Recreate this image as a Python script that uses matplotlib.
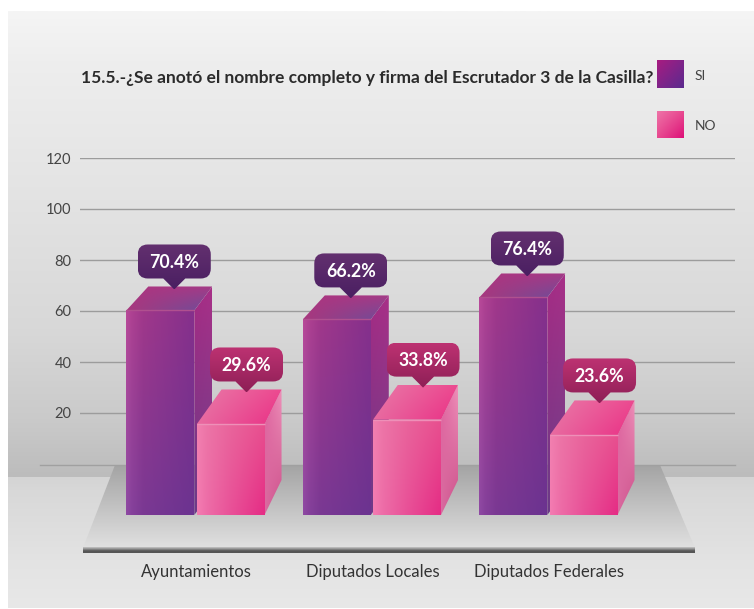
import numpy as np
import matplotlib
matplotlib.use("Agg")
import matplotlib.pyplot as plt
from matplotlib.colors import to_rgb
from matplotlib.patches import Polygon, PathPatch
from matplotlib.path import Path

# ---- data ----
title = "15.5.-¿Se anotó el nombre completo y firma del Escrutador 3 de la Casilla?"
categories = ["Ayuntamientos", "Diputados Locales", "Diputados Federales"]
series_names = ["SI", "NO"]
si_percent = [70.4, 66.2, 76.4]
no_percent = [29.6, 33.8, 23.6]
# height of each front face as it reads against the printed axis
si_axis_top = [60.2, 56.7, 65.3]
no_axis_top = [15.5, 17.4, 11.2]
bar_floor = -20
y_ticks = [20, 40, 60, 80, 100, 120]

W, H = 754, 609
plt.rcParams['font.family'] = ['Lato', 'DejaVu Sans']
fig = plt.figure(figsize=(W / 100, H / 100), dpi=100, facecolor='white')

def c(s):
    return np.array(to_rgb(s))

def grad(ax, x0, x1, y0, y1, tl, tr, bl, br, clip=None, z=1, n=80, stops=None):
    """Bilinear gradient; row 0 of the image (tl, tr) lies at y1."""
    u = np.linspace(0, 1, n)[None, :, None]
    v = np.linspace(0, 1, n)[:, None, None]
    img = (c(tl) * (1 - u) + c(tr) * u) * (1 - v) + (c(bl) * (1 - u) + c(br) * u) * v
    if stops is not None:
        img = np.clip(img + np.interp(u[0, :, 0], stops[0], stops[1])[None, :, None], 0, 1)
    xl, yl = ax.get_xlim(), ax.get_ylim()
    im = ax.imshow(img, extent=(x0, x1, y0, y1), origin='upper', aspect='auto',
                   interpolation='bilinear', zorder=z)
    if clip is not None:
        im.set_clip_path(clip)
    ax.set_xlim(xl)
    ax.set_ylim(yl)
    return im

def vgrad(ax, x0, x1, ys, cols, z=0):
    vals = np.linspace(ys[0], ys[-1], 300)
    arr = np.stack([np.interp(vals, ys, [c(k)[i] for k in cols]) for i in range(3)], axis=1)[:, None, :]
    ax.imshow(arr, extent=(x0, x1, ys[-1], ys[0]), origin='upper', aspect='auto',
              interpolation='bilinear', zorder=z)

# ---- backdrop in pixel coordinates ----
bg = fig.add_axes([0, 0, 1, 1], zorder=0)
bg.set_xlim(0, W)
bg.set_ylim(H, 0)
bg.axis('off')
vgrad(bg, 8, W, [11, 60, 200, 330, 420, 477],
      ['#f5f5f5', '#eeeeee', '#e3e3e3', '#d8d8d8', '#cacaca', '#bcbcbc'])
vgrad(bg, 8, W, [477, 490, 560, 608], ['#d4d4d4', '#d8d8d8', '#e3e3e3', '#e8e8e8'])
floor = Polygon([(115, 465), (660, 465), (695, 548), (83, 548)], closed=True, fc='none', ec='none')
bg.add_patch(floor)
grad(bg, 83, 695, 548, 465, '#a4a4a4', '#a4a4a4', '#e0e0e0', '#e0e0e0', clip=floor, z=1)
vgrad(bg, 83, 695, [548, 550, 551.5, 553.5], ['#c8c8c8', '#8a8a8a', '#555555', '#555555'], z=2)
bg.plot([40, 735], [465, 465], color='#a0a0a0', lw=1, zorder=1.5)
bg.set_xlim(0, W)
bg.set_ylim(H, 0)

# legend swatches and names
for name, ty, y0, y1, a, b, m in [
    (series_names[0], 76, 60, 88, '#a81c80', '#5a2a8e', '#80248a'),
    (series_names[1], 126, 111, 138, '#ee74a8', '#dd0f78', '#e84a90'),
]:
    grad(bg, 657, 684, y1, y0, a, m, m, b, z=3)
    bg.text(695, ty, name, fontsize=10, color='#444444', va='center', ha='left', zorder=4)
bg.set_xlim(0, W)
bg.set_ylim(H, 0)
bg.text(81, 78, title, fontsize=12.5, fontweight='bold', color='#2b2b2b', va='center', ha='left', zorder=4)

# ---- chart axes ----
PX_X = 176.5   # pixels per category step
PX_Y = 2.55    # pixels per axis unit
ax_l, ax_r, ax_t, ax_b = 80, 735, 158, 553
ax = fig.add_axes([ax_l / W, 1 - ax_b / H, (ax_r - ax_l) / W, (ax_b - ax_t) / H], zorder=1)
ax.patch.set_alpha(0)
ax.set_xlim(-(196 - ax_l) / PX_X, (ax_r - 196) / PX_X)
ax.set_ylim((464 - ax_b) / PX_Y, 120)
for s in ax.spines.values():
    s.set_visible(False)
ax.set_yticks(y_ticks)
ax.set_yticklabels([str(t) for t in y_ticks], fontsize=10.5, color='#444444')
ax.set_xticks(range(len(categories)))
ax.set_xticklabels(categories, fontsize=12, color='#333333')
ax.tick_params(axis='both', length=0)
ax.tick_params(axis='y', pad=6)
ax.tick_params(axis='x', pad=8)
ax.yaxis.grid(True, color='#9c9c9c', lw=1)
ax.set_axisbelow(True)

def px(d):
    return d / PX_X

def py(d):
    return d / PX_Y

def callout(cx, tip_y, label, top, bottom, z):
    w, h, r = px(73), py(34), 10
    rx, ry = px(r), py(r)
    x0, x1 = cx - w / 2, cx + w / 2
    y0 = tip_y + py(11)
    y1 = y0 + h
    tw = px(11)
    V = [(x0 + rx, y1), (x1 - rx, y1), (x1, y1), (x1, y1 - ry), (x1, y0 + ry), (x1, y0), (x1 - rx, y0),
         (cx + tw, y0), (cx, tip_y), (cx - tw, y0), (x0 + rx, y0), (x0, y0), (x0, y0 + ry),
         (x0, y1 - ry), (x0, y1), (x0 + rx, y1), (x0 + rx, y1)]
    C = [Path.MOVETO, Path.LINETO, Path.CURVE3, Path.CURVE3, Path.LINETO, Path.CURVE3, Path.CURVE3,
         Path.LINETO, Path.LINETO, Path.LINETO, Path.LINETO, Path.CURVE3, Path.CURVE3,
         Path.LINETO, Path.CURVE3, Path.CURVE3, Path.CLOSEPOLY]
    p = PathPatch(Path(V, C), fc='none', ec='none', zorder=z)
    ax.add_patch(p)
    grad(ax, x0, x1, tip_y, y1, top, top, bottom, bottom, clip=p, z=z)
    ax.text(cx, (y0 + y1) / 2 - py(1), label, color='white', fontsize=12.8, fontweight='bold',
            ha='center', va='center', zorder=z + 0.1)

styles = {
    'SI': dict(off=-0.395, dxl=22, dxr=18, dy=24,
               front=('#a93a8a', '#85308c', '#7f3a94', '#6b3390'),
               stops=([0, .08, .25, 1], [.06, .03, 0, 0]),
               top=('#ac3580', '#a63a86', '#a8387e', '#6d4d9a'),
               side=('#a62c84', '#a83088', '#6c3a88', '#6a3f88'),
               edge='#b0508f', call=('#63306f', '#4a1f62'), cdx=48),
    'NO': dict(off=0.003, dxl=25, dxr=17, dy=35,
               front=('#ea78a8', '#e8508f', '#ec74aa', '#e52c85'),
               stops=([0, .15, .5, 1], [.03, .01, 0, 0]),
               top=('#e97aa8', '#ec4a90', '#e86aa0', '#ea2f85'),
               side=('#e064a0', '#ee92ba', '#d96ca0', '#cb4c88'),
               edge='#ee90b8', call=('#bd3272', '#8e1f56'), cdx=50),
}
bw = 68 / PX_X

for i in range(len(categories)):
    for name, tops, pcts, z0 in [('SI', si_axis_top, si_percent, 3), ('NO', no_axis_top, no_percent, 4)]:
        st = styles[name]
        x0 = i + st['off']
        x1 = x0 + bw
        t = tops[i]
        dxl, dxr, dy = px(st['dxl']), px(st['dxr']), py(st['dy'])
        side = Polygon([(x1, t), (x1 + dxr, t + dy), (x1 + dxr, bar_floor + dy), (x1, bar_floor)],
                       closed=True, fc='none', ec='none', zorder=z0)
        ax.add_patch(side)
        grad(ax, x1, x1 + dxr, bar_floor, t + dy, *st['side'], clip=side, z=z0)
        top = Polygon([(x0, t), (x1, t), (x1 + dxr, t + dy), (x0 + dxl, t + dy)],
                      closed=True, fc='none', ec='none', zorder=z0)
        ax.add_patch(top)
        grad(ax, x0, x1 + dxr, t, t + dy, *st['top'], clip=top, z=z0)
        bar = ax.bar(x0, t - bar_floor, bw, bottom=bar_floor, align='edge',
                     facecolor='none', edgecolor='none', zorder=z0 + 0.1)[0]
        grad(ax, x0, x1, bar_floor, t, *st['front'], clip=bar, z=z0 + 0.1, stops=st['stops'])
        ax.plot([x0, x1], [t, t], color=st['edge'], lw=1.0, zorder=z0 + 0.2, solid_capstyle='butt')
        callout(x0 + px(st['cdx']), t + dy - py(3), f"{pcts[i]}%", *st['call'], z=6)

fig.savefig('out.png', dpi=100, facecolor='white')
